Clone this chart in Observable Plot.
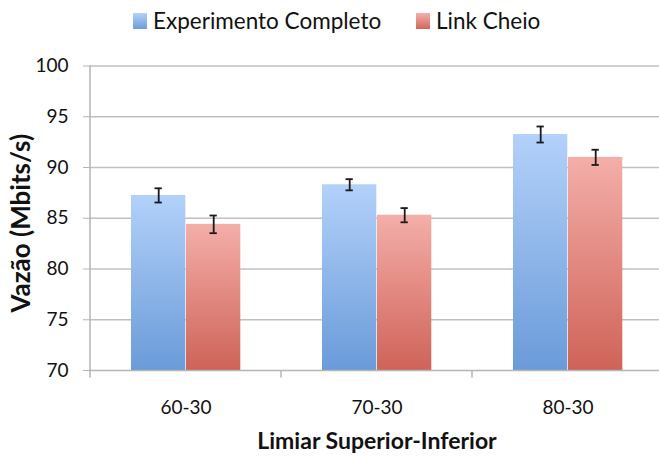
<!DOCTYPE html>
<html>
<head>
<meta charset="utf-8">
<script src="https://cdn.jsdelivr.net/npm/d3@7"></script>
<script src="https://cdn.jsdelivr.net/npm/@observablehq/plot@0.6"></script>
<style>
  html, body { margin: 0; padding: 0; background: #fff; overflow: hidden; }
  body { font-family: Lato, "Noto Sans", sans-serif; color: #111; }
  #legend { position: relative; height: 40px; font-size: 22.5px; }
  .item { position: absolute; top: 8px; display: flex; align-items: center; line-height: 26px; }
  .sw { width: 14px; height: 16px; margin-right: 6px; }
  #chart svg { display: block; }
</style>
</head>
<body>
<div id="legend"></div>
<div id="chart"></div>
<script>
const categories = ["60-30", "70-30", "80-30"];
const seriesNames = ["Experimento Completo", "Link Cheio"];
const completo = [87.25, 88.3, 93.25];
const completoErr = [0.7, 0.55, 0.79];
const cheio = [84.4, 85.3, 91.0];
const cheioErr = [0.87, 0.7, 0.75];
const yTicks = [70, 75, 80, 85, 90, 95, 100];
const xTitle = "Limiar Superior-Inferior";
const yTitle = "Vazão (Mbits/s)";

const dataA = categories.map((c, i) => ({cat: c, series: seriesNames[0], value: completo[i], err: completoErr[i]}));
const dataB = categories.map((c, i) => ({cat: c, series: seriesNames[1], value: cheio[i], err: cheioErr[i]}));

// legend
const legend = d3.select("#legend");
const legendItems = [
  {name: seriesNames[0], color: "linear-gradient(#b3d1fa, #6c9ddb)", left: 133},
  {name: seriesNames[1], color: "linear-gradient(#f4b0ab, #d1665c)", left: 416}
];
legendItems.forEach(it => {
  const div = legend.append("div").attr("class", "item").style("left", it.left + "px");
  div.append("div").attr("class", "sw").style("background", it.color);
  div.append("span").text(it.name);
});

const font = "Lato, 'Noto Sans', sans-serif";
const chart = Plot.plot({
  width: 659,
  height: 417,
  marginTop: 25.5,
  marginBottom: 87,
  marginLeft: 89,
  marginRight: -5,
  style: {fontFamily: font, fontSize: "19px", color: "#111", background: "transparent", overflow: "visible"},
  x: {domain: categories, padding: 0},
  y: {domain: [70, 100], ticks: yTicks},
  marks: [
    Plot.ruleY(yTicks.slice(1), {stroke: "#c0c0c0", strokeWidth: 1.5}),
    Plot.barY(dataA, {x: "cat", y1: 70, y2: "value", fill: "url(#gBlue)", insetLeft: 41, insetRight: 95.7}),
    Plot.barY(dataB, {x: "cat", y1: 70, y2: "value", fill: "url(#gRed)", insetLeft: 96, insetRight: 40.7}),
    Plot.ruleX(dataA, {x: "cat", y1: d => d.value - d.err, y2: d => d.value + d.err, dx: -27.3, stroke: "#1a1a1a", strokeWidth: 1.8}),
    Plot.ruleX(dataB, {x: "cat", y1: d => d.value - d.err, y2: d => d.value + d.err, dx: 27.7, stroke: "#1a1a1a", strokeWidth: 1.8}),
    Plot.tickY(dataA, {x: "cat", y: d => d.value - d.err, insetLeft: 64.5, insetRight: 119.2, stroke: "#1a1a1a", strokeWidth: 1.8}),
    Plot.tickY(dataA, {x: "cat", y: d => d.value + d.err, insetLeft: 64.5, insetRight: 119.2, stroke: "#1a1a1a", strokeWidth: 1.8}),
    Plot.tickY(dataB, {x: "cat", y: d => d.value - d.err, insetLeft: 119.5, insetRight: 64.2, stroke: "#1a1a1a", strokeWidth: 1.8}),
    Plot.tickY(dataB, {x: "cat", y: d => d.value + d.err, insetLeft: 119.5, insetRight: 64.2, stroke: "#1a1a1a", strokeWidth: 1.8}),
    Plot.ruleY([70], {stroke: "#b5b5b5", strokeWidth: 1.5}),
    Plot.axisY({ticks: yTicks, tickSize: 6, tickPadding: 15, stroke: "#b5b5b5", label: null, fill: "#111"}),
    Plot.axisX({tickSize: 0, tickPadding: 30, label: null, fill: "#111"}),
    Plot.text([xTitle], {text: d => d, frameAnchor: "bottom", dy: 71.5, textAnchor: "middle", lineAnchor: "middle", fontWeight: "bold", fontSize: 23, fill: "#111"}),
    Plot.text([yTitle], {text: d => d, frameAnchor: "left", dx: -68, dy: 5, rotate: -90, textAnchor: "middle", lineAnchor: "middle", fontWeight: "bold", fontSize: 26, fill: "#111"})
  ]
});
document.getElementById("chart").appendChild(chart);

// gradients and axis lines drawn from the chart's own scales
const svg = d3.select(chart);
const defs = svg.insert("defs", ":first-child");
const grads = [
  {id: "gBlue", top: "#b3d1fa", bottom: "#6a9bd9"},
  {id: "gRed", top: "#f4aea9", bottom: "#cf6358"}
];
grads.forEach(g => {
  const lg = defs.append("linearGradient").attr("id", g.id).attr("x1", 0).attr("y1", 0).attr("x2", 0).attr("y2", 1);
  lg.append("stop").attr("offset", "0%").attr("stop-color", g.top);
  lg.append("stop").attr("offset", "100%").attr("stop-color", g.bottom);
});
const xs = chart.scale("x");
const ys = chart.scale("y");
const y0 = ys.apply(70), yTop = ys.apply(100);
const x0 = xs.apply(categories[0]);
const axisG = svg.append("g").attr("stroke", "#b5b5b5").attr("stroke-width", 1.5);
axisG.append("line").attr("x1", x0).attr("x2", x0).attr("y1", yTop).attr("y2", y0);
categories.forEach(c => {
  const bx = xs.apply(c);
  axisG.append("line").attr("x1", bx).attr("x2", bx).attr("y1", y0).attr("y2", y0 + 7.5);
});
</script>
</body>
</html>
